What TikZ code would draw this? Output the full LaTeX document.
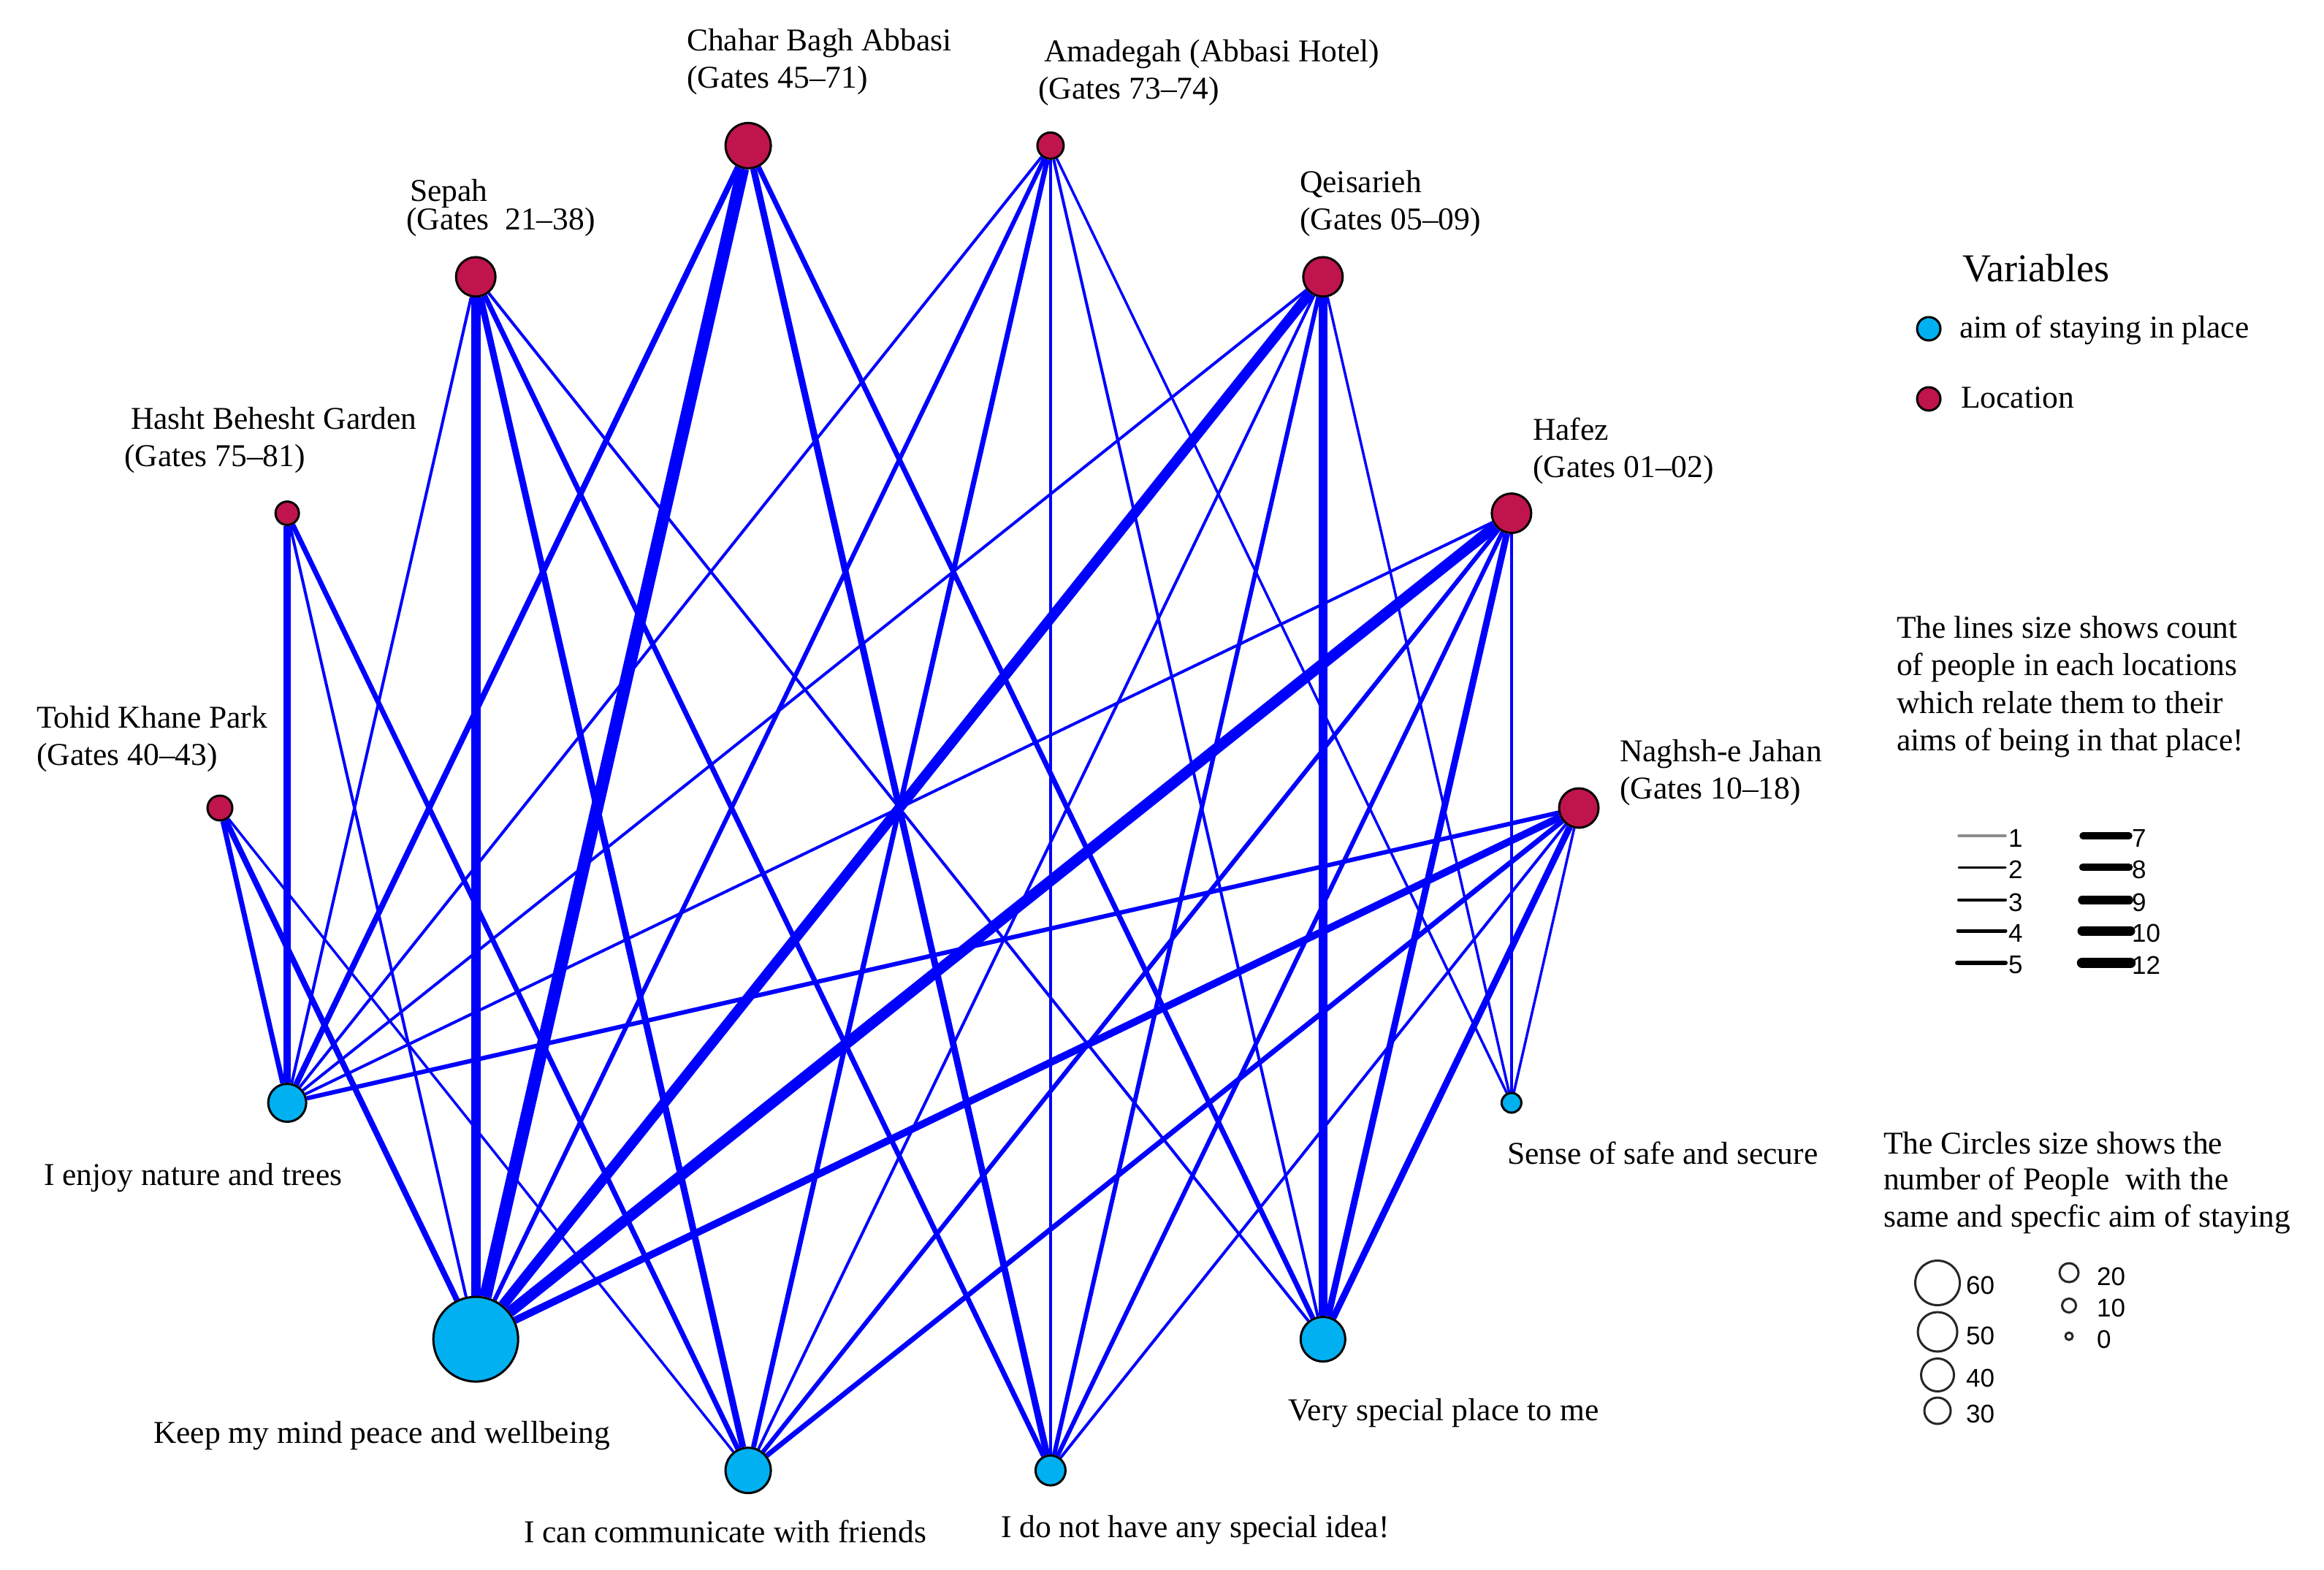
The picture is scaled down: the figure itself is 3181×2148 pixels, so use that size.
\documentclass[tikz,border=0pt]{standalone}
\usepackage{fontspec}
\setmainfont{Liberation Serif}
\setsansfont{Liberation Sans}
\usetikzlibrary{backgrounds}
\definecolor{edgeblue}{RGB}{0,0,255}
\definecolor{locred}{RGB}{192,20,76}
\definecolor{aimblue}{RGB}{0,176,240}
\begin{document}
\begin{tikzpicture}[x=1pt,y=1pt,
  loc/.style={circle, draw=black, line width=3pt, fill=locred, inner sep=0pt, minimum size=#1},
  aim/.style={circle, draw=black, line width=3pt, fill=aimblue, inner sep=0pt, minimum size=#1},
  lbl/.style={anchor=base west, inner sep=0pt, font=\fontsize{43.5}{51}\selectfont},
  lnk/.style={draw=edgeblue},
  legline/.style={draw=black, line cap=round},
  legnum/.style={anchor=west, inner sep=0pt, font=\sffamily\fontsize{35}{40}\selectfont},
  legcirc/.style={draw=black!85, line width=3pt}
]
\useasboundingbox (0,0) rectangle (3181,-2148);

% ---------- circle nodes ----------
\begin{scope}[shift={(1231,-1106)}]
  \node[loc=54pt] (NJ) at (0:930) {};
  \node[loc=54pt] (HF) at (25.714:930) {};
  \node[loc=54pt] (QE) at (51.429:930) {};
  \node[loc=36pt] (AM) at (77.143:930) {};
  \node[loc=62pt] (CB) at (102.857:930) {};
  \node[loc=54pt] (SE) at (128.571:930) {};
  \node[loc=32pt] (HB) at (154.286:930) {};
  \node[loc=34pt] (TK) at (180:930) {};
  \node[aim=52pt] (EN) at (205.714:930) {};
  \node[aim=116pt] (KM) at (231.429:930) {};
  \node[aim=62pt] (CF) at (257.143:930) {};
  \node[aim=41pt] (NI) at (282.857:930) {};
  \node[aim=61pt] (VS) at (308.571:930) {};
  \node[aim=27pt] (SS) at (334.286:930) {};
\end{scope}

% ---------- connectors ----------
\begin{pgfonlayer}{background}
  \fill[white] (0,0) rectangle (3181,-2148);
  % I enjoy nature and trees
  \draw[lnk, line width=7pt] (TK) -- (EN);
  \draw[lnk, line width=10pt] (HB) -- (EN);
  \draw[lnk, line width=4pt] (SE) -- (EN);
  \draw[lnk, line width=8pt] (CB) -- (EN);
  \draw[lnk, line width=4pt] (AM) -- (EN);
  \draw[lnk, line width=4pt] (QE) -- (EN);
  \draw[lnk, line width=4pt] (HF) -- (EN);
  \draw[lnk, line width=6pt] (NJ) -- (EN);
  % Keep my mind peace and wellbeing
  \draw[lnk, line width=8pt] (TK) -- (KM);
  \draw[lnk, line width=4pt] (HB) -- (KM);
  \draw[lnk, line width=13pt] (SE) -- (KM);
  \draw[lnk, line width=17pt] (CB) -- (KM);
  \draw[lnk, line width=6pt] (AM) -- (KM);
  \draw[lnk, line width=14pt] (QE) -- (KM);
  \draw[lnk, line width=15pt] (HF) -- (KM);
  \draw[lnk, line width=10pt] (NJ) -- (KM);
  % I can communicate with friends
  \draw[lnk, line width=3.5pt] (TK) -- (CF);
  \draw[lnk, line width=7pt] (HB) -- (CF);
  \draw[lnk, line width=9pt] (SE) -- (CF);
  \draw[lnk, line width=7pt] (AM) -- (CF);
  \draw[lnk, line width=4pt] (QE) -- (CF);
  \draw[lnk, line width=6pt] (HF) -- (CF);
  \draw[lnk, line width=7pt] (NJ) -- (CF);
  % I do not have any special idea!
  \draw[lnk, line width=7pt] (SE) -- (NI);
  \draw[lnk, line width=9pt] (CB) -- (NI);
  \draw[lnk, line width=3.5pt] (AM) -- (NI);
  \draw[lnk, line width=6pt] (QE) -- (NI);
  \draw[lnk, line width=6pt] (HF) -- (NI);
  \draw[lnk, line width=4pt] (NJ) -- (NI);
  % Very special place to me
  \draw[lnk, line width=4pt] (SE) -- (VS);
  \draw[lnk, line width=7pt] (CB) -- (VS);
  \draw[lnk, line width=4pt] (AM) -- (VS);
  \draw[lnk, line width=12pt] (QE) -- (VS);
  \draw[lnk, line width=9pt] (HF) -- (VS);
  \draw[lnk, line width=9pt] (NJ) -- (VS);
  % Sense of safe and secure
  \draw[lnk, line width=3.5pt] (AM) -- (SS);
  \draw[lnk, line width=3.5pt] (QE) -- (SS);
  \draw[lnk, line width=3.5pt] (HF) -- (SS);
  \draw[lnk, line width=3.5pt] (NJ) -- (SS);
\end{pgfonlayer}

% ---------- node labels ----------
\node[lbl] (CBa) at (940,-69) {Chahar Bagh Abbasi};
\node[lbl] (CBb) at (940,-120) {(Gates 45–71)};
\node[lbl] (AMa) at (1429,-84) {Amadegah (Abbasi Hotel)};
\node[lbl] (AMb) at (1421,-135) {(Gates 73–74)};
\node[lbl] (SEa) at (561,-275) {Sepah};
\node[lbl] (SEb) at (556,-314) {(Gates\ \ 21–38)};
\node[lbl] (QEa) at (1779,-263) {Qeisarieh};
\node[lbl] (QEb) at (1779,-314) {(Gates 05–09)};
\node[lbl] (HBa) at (179,-587) {Hasht Behesht Garden};
\node[lbl] (HBb) at (170,-638) {(Gates 75–81)};
\node[lbl] (HFa) at (2098,-602) {Hafez};
\node[lbl] (HFb) at (2098,-653) {(Gates 01–02)};
\node[lbl] (TKa) at (50,-996) {Tohid Khane Park};
\node[lbl] (TKb) at (50,-1047) {(Gates 40–43)};
\node[lbl] (NJa) at (2217,-1042) {Naghsh-e Jahan};
\node[lbl] (NJb) at (2217,-1093) {(Gates 10–18)};
\node[lbl] (ENt) at (60,-1622) {I enjoy nature and trees};
\node[lbl] (KMt) at (210,-1975) {Keep my mind peace and wellbeing};
\node[lbl] (CFt) at (717,-2111) {I can communicate with friends};
\node[lbl] (NIt) at (1370,-2104) {I do not have any special idea!};
\node[lbl] (VSt) at (1763,-1944) {Very special place to me};
\node[lbl] (SSt) at (2063,-1593) {Sense of safe and secure};

% ---------- legend: variables ----------
\node[lbl, font=\fontsize{54}{60}\selectfont] (vart) at (2686,-385) {Variables};
\node[aim=32pt] (legaim) at (2640,-450) {};
\node[loc=32pt] (legloc) at (2640,-546) {};
\node[lbl] (legaimt) at (2682,-462) {aim of staying in place};
\node[lbl] (legloct) at (2684,-558) {Location};

% ---------- legend: lines ----------
\node[lbl] (ltxa) at (2596,-873) {The lines size shows count};
\node[lbl] (ltxb) at (2596,-924) {of people in each locations};
\node[lbl] (ltxc) at (2596,-976) {which relate them to their};
\node[lbl] (ltxd) at (2596,-1027) {aims of being in that place!};

\draw[legline, draw=black!45, line width=3.5pt] (2681,-1144) -- (2745,-1144);
\draw[legline, line width=3pt] (2681,-1187) -- (2745,-1187);
\draw[legline, line width=4pt] (2681,-1232) -- (2745,-1232);
\draw[legline, line width=5pt] (2680,-1274) -- (2745,-1274);
\draw[legline, line width=6pt] (2679,-1318) -- (2745,-1318);
\draw[legline, line width=9.5pt] (2851,-1144) -- (2914,-1144);
\draw[legline, line width=10.5pt] (2851,-1187) -- (2914,-1187);
\draw[legline, line width=11.5pt] (2850,-1232) -- (2914,-1232);
\draw[legline, line width=13pt] (2850,-1274) -- (2916,-1274);
\draw[legline, line width=14.5pt] (2850,-1318) -- (2916,-1318);
\node[legnum] (n1) at (2749,-1147) {1};
\node[legnum] (n2) at (2749,-1190) {2};
\node[legnum] (n3) at (2749,-1235) {3};
\node[legnum] (n4) at (2749,-1277) {4};
\node[legnum] (n5) at (2749,-1321) {5};
\node[legnum] (n7) at (2918,-1147) {7};
\node[legnum] (n8) at (2918,-1190) {8};
\node[legnum] (n9) at (2918,-1235) {9};
\node[legnum] (n10) at (2918,-1277) {10};
\node[legnum] (n12) at (2918,-1321) {12};

% ---------- legend: circles ----------
\node[lbl] (ctxa) at (2578,-1579) {The Circles size shows the};
\node[lbl] (ctxb) at (2578,-1628) {number of People\ \ with the};
\node[lbl] (ctxc) at (2578,-1679) {same and specfic aim of staying};

\draw[legcirc] (2652,-1756) circle (30.5);
\draw[legcirc] (2652,-1823) circle (27);
\draw[legcirc] (2652,-1882) circle (22.5);
\draw[legcirc] (2652,-1931) circle (18);
\draw[legcirc] (2832,-1742) circle (13);
\draw[legcirc] (2832,-1787) circle (9.5);
\draw[legcirc] (2832,-1829) circle (5);
\node[legnum] (c60) at (2691,-1759) {60};
\node[legnum] (c50) at (2691,-1828) {50};
\node[legnum] (c40) at (2691,-1886) {40};
\node[legnum] (c30) at (2691,-1935) {30};
\node[legnum] (c20) at (2870,-1747) {20};
\node[legnum] (c10) at (2870,-1790) {10};
\node[legnum] (c0) at (2870,-1833) {0};
\end{tikzpicture}
\end{document}
